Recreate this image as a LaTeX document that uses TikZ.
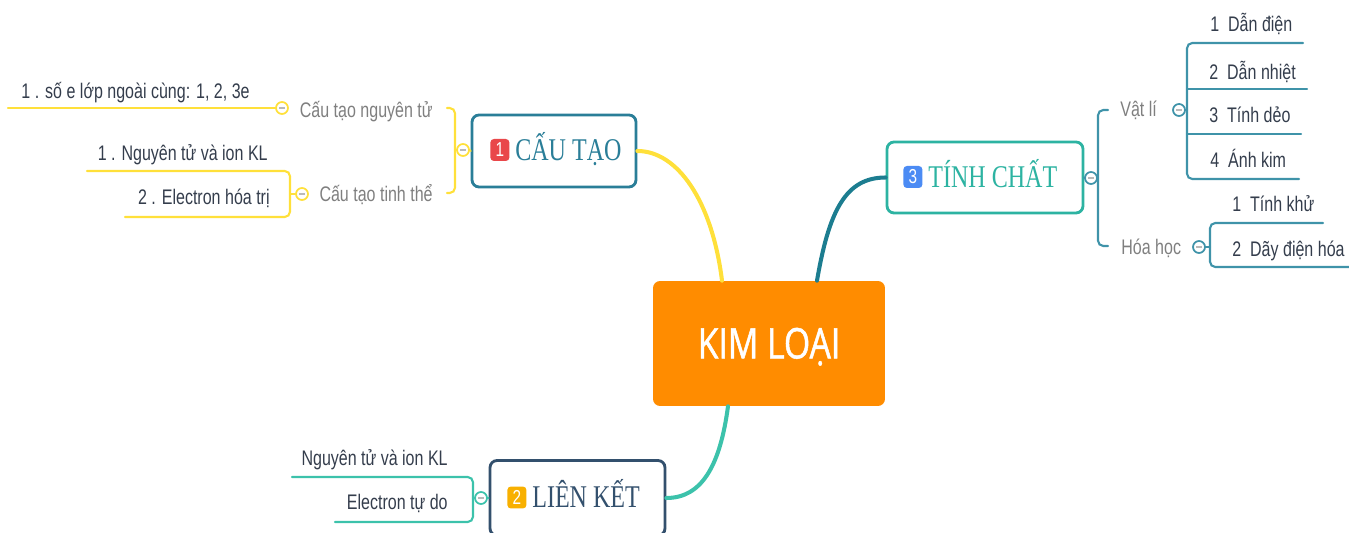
\documentclass[tikz,border=0pt]{standalone}
\usepackage{fontspec}
\usetikzlibrary{positioning,calc}
\newfontfamily\leaffont[FakeStretch=0.76]{Liberation Sans}
\newfontfamily\titlefont[FakeStretch=0.76]{Liberation Serif}
\newfontfamily\kimfont[FakeStretch=0.8, FakeBold=1.2]{Open Sans}
\definecolor{kimc}{HTML}{FF8C00}
\definecolor{yel}{HTML}{FFE03A}
\definecolor{cautaoc}{HTML}{2A7E98}
\definecolor{tinhc}{HTML}{2DB3A2}
\definecolor{tinhline}{HTML}{1C7D90}
\definecolor{tinhsub}{HTML}{3F93A9}
\definecolor{lienc}{HTML}{33506D}
\definecolor{lienline}{HTML}{3CC2AB}
\definecolor{leafc}{HTML}{343D4C}
\definecolor{labelc}{HTML}{7F7F7F}
\definecolor{redb}{HTML}{E9474A}
\definecolor{blueb}{HTML}{4B8BF4}
\definecolor{orangeb}{HTML}{F8B000}
\tikzset{
  kimbox/.style={fill=kimc, rounded corners=4pt, text=white, minimum width=4.64cm, minimum height=2.5cm,
    font=\kimfont\fontsize{24}{26}\selectfont, text height=17pt, text depth=0pt},
  topic/.style={fill=white, line width=1.6pt, rounded corners=4pt},
  title/.style={font=\titlefont\fontsize{18}{20}\selectfont, inner sep=0pt, text height=11.9pt, text depth=0pt, anchor=west},
  badge/.style={rounded corners=2pt, text=white, font=\leaffont\fontsize{11.5}{12}\selectfont,
    minimum width=0.38cm, minimum height=0.44cm, inner sep=0pt},
  leaf/.style={font=\leaffont\fontsize{12}{14}\selectfont, text=leafc, inner sep=0pt, text height=8.6pt, text depth=0pt},
  sublabel/.style={leaf, text=labelc},
  knob/.style={circle, draw, fill=white, line width=1pt, minimum size=0.24cm, inner sep=0pt,
    path picture={\draw[gray!55, line width=0.7pt] ([xshift=-1.6pt]path picture bounding box.center) -- ([xshift=1.6pt]path picture bounding box.center);}},
  branch/.style={line width=1.2pt, line cap=round},
  mainline/.style={line width=2.3pt, line cap=round},
}
\begin{document}
\begin{tikzpicture}[x=0.02cm, y=-0.02cm]
\useasboundingbox (0,0) rectangle (1349,533);

% central topic and main topics
\node[kimbox] (kim) at (769,343.5) {KIM LOẠI};
\node[topic, draw=cautaoc, minimum width=3.28cm, minimum height=1.44cm] (cautao) at (554,151) {};
\node[title, text=cautaoc] (cautaoT) at (515,150) {CẤU TẠO};
\node[badge, fill=redb, left=3pt of cautaoT] (cautaoB) {1};
\node[topic, draw=tinhc, minimum width=3.92cm, minimum height=1.42cm] (tinhchat) at (985,177.5) {};
\node[title, text=tinhc] (tinhchatT) at (928,177) {TÍNH CHẤT};
\node[badge, fill=blueb, left=3pt of tinhchatT] (tinhchatB) {3};
\node[topic, draw=lienc, minimum width=3.5cm, minimum height=1.5cm] (lienket) at (577.5,498) {};
\node[title, text=lienc] (lienketT) at (532,497.5) {LIÊN KẾT};
\node[badge, fill=orangeb, left=3pt of lienketT] (lienketB) {2};

\draw[mainline, yel] ($(kim.north)+(-47,0)$) .. controls +(-10,-80) and +(40,0) .. (cautao.east);
\draw[mainline, tinhline] ($(kim.north)+(48,0)$) .. controls +(12,-70) and +(-40,0) .. (tinhchat.west);
\draw[mainline, lienline] ($(kim.south)+(-41,0)$) .. controls +(-8,60) and +(35,0) .. (lienket.east);

% CAU TAO branch
\node[sublabel, anchor=east] (ctng) at (433,110) {Cấu tạo nguyên tử};
\node[sublabel, anchor=east] (cttt) at (433,194) {Cấu tạo tinh thể};
\node[leaf, anchor=east] (so) at (250,90.5) {1 . số e lớp ngoài cùng: 1, 2, 3e};
\node[leaf, anchor=east] (tt1) at (268,153) {1 . Nguyên tử và ion KL};
\node[leaf, anchor=east] (tt2) at (270,197) {2 . Electron hóa trị};
\node[knob, draw=yel] (kc) at (463,150) {};
\node[knob, draw=yel] (kng) at (282,108) {};
\node[knob, draw=yel] (ktt) at (302,194) {};
\coordinate (jc) at (455,150);
\coordinate (cS1) at (447,108);
\coordinate (cS2) at (447,193);
\coordinate (sL) at (8,108);
\coordinate (jtt) at (290,194);
\coordinate (tL1) at (87,171);
\coordinate (tL2) at (125,217);
\begin{scope}[branch, yel]
\draw (cautao.west) -- (kc.east);
\draw (kc.west) -- (jc);
\draw[rounded corners=3pt] (cS1) -| (jc) |- (cS2);
\draw (sL) -- (kng.west);
\draw (ktt.west) -- (jtt);
\draw[rounded corners=3pt] (tL1) -| (jtt) |- (tL2);
\end{scope}

% TINH CHAT branch
\node[sublabel, anchor=west] (vatli) at (1120,109) {Vật lí};
\node[sublabel, anchor=west] (hoahoc) at (1121,246.5) {Hóa học};
\node[leaf, anchor=west] (d1) at (1210,24) {1~~Dẫn điện};
\node[leaf, anchor=west] (d2) at (1209,71.5) {2~~Dẫn nhiệt};
\node[leaf, anchor=west] (d3) at (1209,115) {3~~Tính dẻo};
\node[leaf, anchor=west] (d4) at (1210,160) {4~~Ánh kim};
\node[leaf, anchor=west] (h1) at (1232,204) {1~~Tính khử};
\node[leaf, anchor=west] (h2) at (1232,249) {2~~Dãy điện hóa};
\node[knob, draw=tinhsub] (kt) at (1091,178) {};
\node[knob, draw=tinhsub] (kvl) at (1179,110) {};
\node[knob, draw=tinhsub] (khh) at (1199,247) {};
\coordinate (jt) at (1098,178);
\coordinate (vS) at (1108,110);
\coordinate (hS) at (1108,246);
\coordinate (jvl) at (1187,110);
\coordinate (dE1) at (1303,43);
\coordinate (dE2) at (1307,89);
\coordinate (dE3) at (1301,134);
\coordinate (dE4) at (1299,179);
\coordinate (jhh) at (1210,247);
\coordinate (hE1) at (1323,223);
\coordinate (hE2) at (1352,267);
\begin{scope}[branch, tinhsub]
\draw (tinhchat.east) -- (kt.west);
\draw (kt.east) -- (jt);
\draw[rounded corners=3pt] (vS) -| (jt) |- (hS);
\draw (kvl.east) -- (jvl);
\draw[rounded corners=3pt] (dE1) -| (jvl) |- (dE4);
\draw (jvl |- dE2) -- (dE2);
\draw (jvl |- dE3) -- (dE3);
\draw (khh.east) -- (jhh);
\draw[rounded corners=3pt] (hE1) -| (jhh) |- (hE2);
\end{scope}

% LIEN KET branch
\node[leaf, anchor=east] (lk1) at (448,457.5) {Nguyên tử và ion KL};
\node[leaf, anchor=east] (lk2) at (448,501.5) {Electron tự do};
\node[knob, draw=lienline] (klk) at (481,498) {};
\coordinate (jlk) at (473,498);
\coordinate (lL1) at (292,477);
\coordinate (lL2) at (335,522);
\begin{scope}[branch, lienline]
\draw (lienket.west) -- (klk.east);
\draw (klk.west) -- (jlk);
\draw[rounded corners=3pt] (lL1) -| (jlk) |- (lL2);
\end{scope}
\end{tikzpicture}
\end{document}
